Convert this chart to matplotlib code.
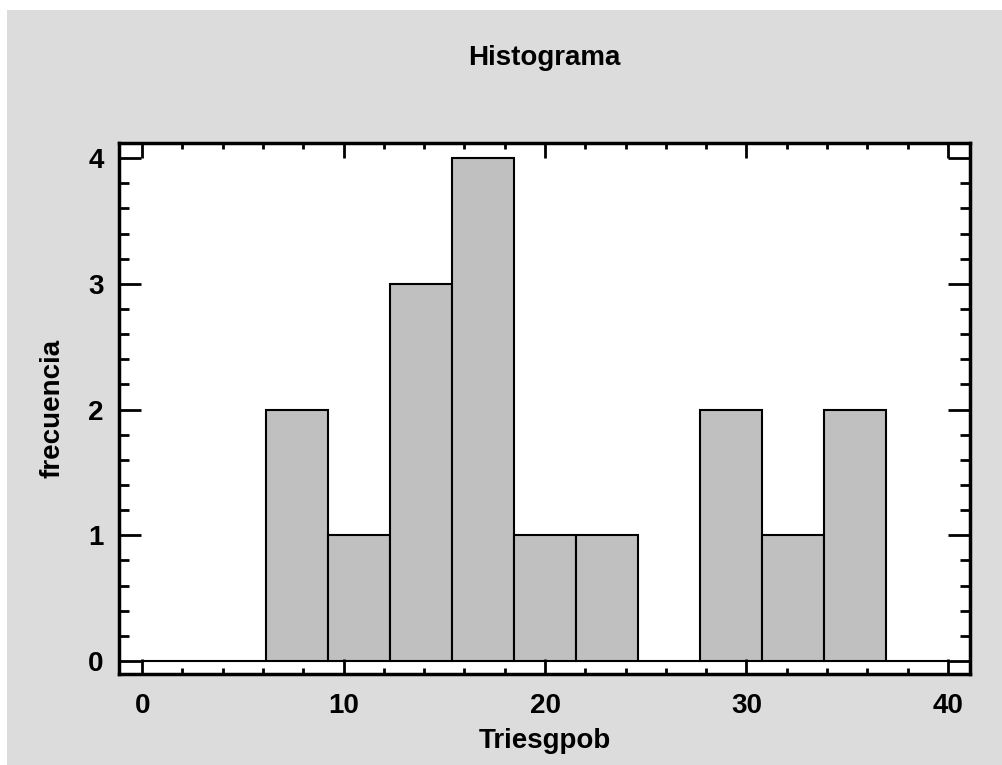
import matplotlib
matplotlib.use('Agg')
from matplotlib import pyplot as plt
from matplotlib.patches import Rectangle
from matplotlib.ticker import MultipleLocator

# histogram bins 0..40, 13 bins
bin_edges = [0, 3.077, 6.154, 9.231, 12.308, 15.385, 18.462, 21.538,
             24.615, 27.692, 30.769, 33.846, 36.923, 40]
counts = [0, 0, 2, 1, 3, 4, 1, 1, 0, 2, 1, 2, 0]

plt.rcParams['font.family'] = ['Liberation Sans', 'DejaVu Sans']
plt.rcParams['font.weight'] = 'bold'

fig = plt.figure(figsize=(10.03, 7.65), dpi=100)
fig.patch.set_facecolor('white')
fig.patches.append(Rectangle((7 / 1003, 0), 1, 1 - 10 / 765, transform=fig.transFigure,
                             facecolor='#DCDCDC', edgecolor='none', zorder=-10))

ax = fig.add_axes([119 / 1003, 1 - 674 / 765, 851 / 1003, 531 / 765])
ax.set_facecolor('white')

widths = [bin_edges[i + 1] - bin_edges[i] for i in range(len(counts))]
ax.bar(bin_edges[:-1], counts, width=widths, align='edge',
       color='#C0C0C0', edgecolor='black', linewidth=1.5)

ax.set_xlim(-1.15, 41.1)
ax.set_ylim(-0.103, 4.12)

ax.xaxis.set_major_locator(MultipleLocator(10))
ax.xaxis.set_minor_locator(MultipleLocator(2))
ax.yaxis.set_major_locator(MultipleLocator(1))
ax.yaxis.set_minor_locator(MultipleLocator(0.2))

fs = 20
ax.tick_params(which='both', direction='in', top=True, right=True, width=2, colors='black')
ax.tick_params(axis='x', which='major', length=11, labelsize=fs, pad=14)
ax.tick_params(axis='x', which='minor', length=4)
ax.tick_params(axis='y', which='major', length=16, labelsize=fs, pad=11)
ax.tick_params(axis='y', which='minor', length=7)

for s in ax.spines.values():
    s.set_linewidth(2.5)

ax.set_title('Histograma', fontsize=fs, fontweight='bold', pad=56)
ax.set_xlabel('Triesgpob', fontsize=fs, fontweight='bold', labelpad=6)
ax.set_ylabel('frecuencia', fontsize=fs, fontweight='bold', labelpad=16)

fig.savefig('out.png', dpi=100)
